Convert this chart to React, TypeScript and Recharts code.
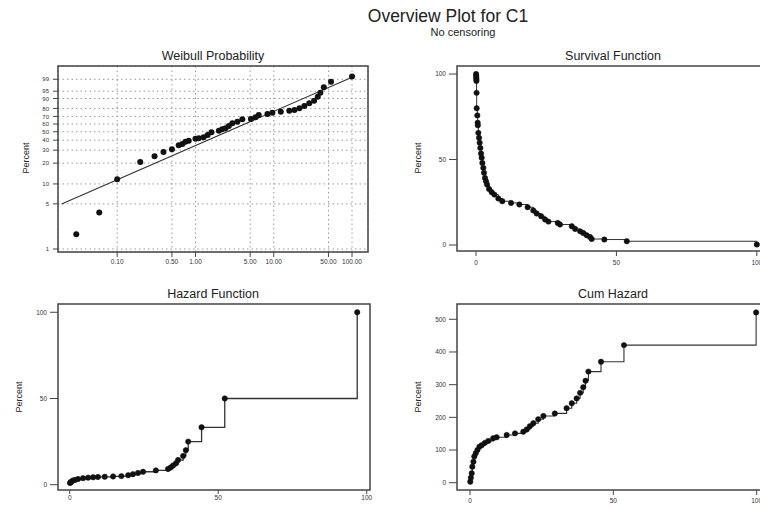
import React from 'react';
import {
  CartesianGrid,
  Line,
  LineChart,
  ReferenceArea,
  Scatter,
  ScatterChart,
  XAxis,
  YAxis,
} from 'recharts';

const FONT = '"Liberation Sans", Arial, sans-serif';

// Weibull probability plot (time, plotted percent)
const weibullTimes = [
  0.03, 0.059, 0.1, 0.197, 0.3, 0.39, 0.5, 0.61, 0.68, 0.745, 0.82, 1.0, 1.1, 1.27, 1.43, 1.6,
  1.99, 2.19, 2.42, 2.67, 2.96, 3.43, 3.97, 5.1, 5.86, 6.43, 8.3, 9.6, 12.3, 15.8, 18.4, 21.3,
  24.6, 28.4, 32.8, 36.5, 39.4, 43.6, 53.9, 100,
];
const weibullPercents = [
  1.7, 3.7, 11.7, 20.7, 24.8, 28.4, 30.8, 34.6, 36, 38.4, 39.4, 41.7, 42.2, 43.3, 46, 49.3,
  51.3, 53.1, 54.4, 57.4, 61, 63.1, 66.3, 66.8, 68.9, 71.9, 73.2, 74.8, 76, 77.3, 78, 80.1,
  82.7, 85.6, 88.1, 91.4, 94.1, 96.8, 98.5, 99.4,
];
const fitTimes = [0.0195, 100];
const fitPercents = [4.98, 99.3];
const percentTicks = [1, 5, 10, 20, 30, 40, 50, 60, 70, 80, 90, 95, 99];
const timeTicks = [0.1, 0.5, 1, 5, 10, 50, 100];

// Survival function
const survTimes = [
  0.03, 0.06, 0.1, 0.12, 0.15, 0.2, 0.24, 0.47, 0.59, 0.65, 0.83, 1.07, 1.3, 1.54, 1.78, 2.02,
  2.26, 2.61, 2.85, 3.2, 3.56, 3.92, 4.63, 5.58, 6.53, 7.95, 9.37, 12.47, 15.44, 18.4, 20.4,
  21.6, 23.2, 24.6, 25.8, 29.1, 29.9, 34.1, 35.3, 37.1, 38.2, 39.4, 40.6, 41.2, 45.7, 53.7, 100,
];
const survPercents = [
  100, 99, 98, 97, 96, 89, 80, 75.8, 71.5, 70, 65.6, 62.7, 59.8, 56.8, 53.5, 51, 48, 45.1, 42.2,
  39.2, 37.3, 35.4, 32.8, 30.9, 29.5, 27.2, 25.6, 24.6, 23.7, 22.1, 20.2, 18.4, 16.8, 14.9, 13.7,
  12.9, 12, 11, 9.4, 8, 7, 5.7, 4.7, 3.5, 3.2, 2.2, 0.3,
];

// Hazard function
const hazTimes = [
  0.1, 0.3, 0.6, 1.1, 1.8, 2.8, 4.5, 6.2, 7.9, 9.5, 11.8, 14.6, 17.4, 19.7, 21.3, 23, 24.7, 29,
  33.1, 34, 34.8, 35.8, 36.5, 38.2, 39.1, 39.9, 44.4, 52.2, 96.8,
];
const hazPercents = [
  1.0, 1.4, 1.8, 2.4, 2.8, 3.3, 3.8, 4.1, 4.3, 4.5, 4.6, 4.8, 5.0, 5.5, 6.1, 6.8, 7.5, 8.3, 9.1,
  10, 11.1, 12.5, 14.3, 16.7, 20, 25, 33.3, 50, 100,
];

// Cumulative hazard
const cumTimes = [
  0.1, 0.3, 0.6, 0.8, 1.2, 1.5, 2, 2.6, 3.3, 4.1, 5.2, 6.4, 8.1, 9.3, 12.8, 15.7, 18.6, 19.8,
  20.9, 22.1, 23.8, 25.6, 29.6, 33.7, 35.5, 37.2, 38.4, 39.5, 40.3, 41.3, 45.7, 53.7, 99.8,
];
const cumPercents = [
  3, 15, 29, 49, 64, 80, 90, 100, 110, 115, 122, 128, 136, 139, 146, 151, 156, 163, 173, 182,
  194, 204, 212, 228, 243, 258, 275, 292, 312, 340, 370, 421, 521,
];

const weibullY = (p: number) => Math.log(-Math.log(1 - p / 100));
const weibullP = (w: number) => Math.round((1 - Math.exp(-Math.exp(w))) * 100);

const pair = (xs: number[], ys: number[]) => xs.map((t, i) => ({ t, v: ys[i] }));

const weibullData = weibullTimes.map((t, i) => ({ t, w: weibullY(weibullPercents[i]) }));
const fitData = fitTimes.map((t, i) => ({ t, w: weibullY(fitPercents[i]) }));

const tick = { fill: '#333', fontSize: 6.5, fontFamily: FONT };
const tickLine = { stroke: '#444' };
const frame = { fill: 'none', stroke: '#444', strokeWidth: 1.5, fillOpacity: 0 };
const dot = { r: 2.7, fill: '#111', stroke: '#111', strokeWidth: 0.5 };

const Dot = (props: any) => <circle cx={props.cx} cy={props.cy} r={3} fill="#111" />;
const NoShape = () => <g />;

function Text({ x, y, size, children, rotate }: any) {
  return (
    <div
      style={{
        position: 'absolute',
        left: x,
        top: y,
        transform: `translate(-50%, -50%)${rotate ? ' rotate(-90deg)' : ''}`,
        fontSize: size,
        fontFamily: FONT,
        color: '#222',
        whiteSpace: 'nowrap',
        lineHeight: 1,
      }}
    >
      {children}
    </div>
  );
}

function StepPanel({ data, left, top, width, height, margin, xDomain, yDomain, yTicks, yWidth, xTickSize, xTickMargin, xHeight, lineWidth }: any) {
  return (
    <div style={{ position: 'absolute', left, top }}>
      <LineChart width={width} height={height} data={data} margin={margin}>
        <XAxis
          type="number"
          dataKey="t"
          domain={xDomain}
          allowDataOverflow
          ticks={[0, 50, 100]}
          interval={0}
          tick={tick}
          tickLine={tickLine}
          axisLine={false}
          tickSize={xTickSize}
          tickMargin={xTickMargin}
          height={xHeight}
        />
        <YAxis
          type="number"
          domain={yDomain}
          allowDataOverflow
          ticks={yTicks}
          interval={0}
          tick={tick}
          tickLine={tickLine}
          axisLine={false}
          tickSize={8}
          tickMargin={3}
          width={yWidth}
        />
        <ReferenceArea x1={xDomain[0]} x2={xDomain[1]} y1={yDomain[0]} y2={yDomain[1]} {...frame} />
        <Line
          type="stepAfter"
          dataKey="v"
          stroke="#333"
          strokeWidth={lineWidth}
          dot={dot}
          activeDot={false}
          isAnimationActive={false}
        />
      </LineChart>
    </div>
  );
}

export default function App() {
  const wDomain = [-4.708, 2.007];
  const tDomain = [0.01753, 160];
  return (
    <div
      style={{
        position: 'absolute',
        left: 0,
        top: 0,
        width: 760,
        height: 508,
        overflow: 'hidden',
        background: '#fff',
      }}
    >
      <Text x={448} y={17} size={17.5}>Overview Plot for C1</Text>
      <Text x={463} y={32} size={11}>No censoring</Text>

      <Text x={213} y={56} size={12.5}>Weibull Probability</Text>
      <Text x={613} y={56} size={12.5}>Survival Function</Text>
      <Text x={213} y={294} size={12.5}>Hazard Function</Text>
      <Text x={613} y={294} size={12.5}>Cum Hazard</Text>

      <Text x={26} y={158} size={9} rotate>Percent</Text>
      <Text x={418} y={158} size={9} rotate>Percent</Text>
      <Text x={19} y={397} size={9} rotate>Percent</Text>
      <Text x={418} y={397} size={9} rotate>Percent</Text>

      <div style={{ position: 'absolute', left: 0, top: 40 }}>
        <ScatterChart width={380} height={240} margin={{ top: 26, right: 12, bottom: 8, left: 28 }}>
          <CartesianGrid stroke="#999" strokeDasharray="1.5 3" />
          <XAxis
            type="number"
            dataKey="t"
            scale="log"
            domain={tDomain}
            allowDataOverflow
            ticks={timeTicks}
            interval={0}
            tickFormatter={(v: number) => v.toFixed(2)}
            tick={tick}
            tickLine={tickLine}
            axisLine={false}
            tickSize={5}
            tickMargin={2}
            height={20}
          />
          <YAxis
            type="number"
            dataKey="w"
            domain={wDomain}
            allowDataOverflow
            ticks={percentTicks.map(weibullY)}
            interval={0}
            tickFormatter={(v: number) => String(weibullP(v))}
            tick={{ ...tick, fontSize: 6 }}
            tickLine={tickLine}
            axisLine={false}
            tickSize={5}
            tickMargin={4}
            width={30}
          />
          <ReferenceArea x1={tDomain[0]} x2={tDomain[1]} y1={wDomain[0]} y2={wDomain[1]} {...frame} />
          <Scatter data={fitData} line={{ stroke: '#333', strokeWidth: 1.1 }} shape={NoShape} isAnimationActive={false} />
          <Scatter data={weibullData} shape={Dot} isAnimationActive={false} />
        </ScatterChart>
      </div>

      <StepPanel
        data={pair(survTimes, survPercents)}
        left={380}
        top={40}
        width={390}
        height={240}
        margin={{ top: 26, right: 7, bottom: 8, left: 37 }}
        xDomain={[-6.77, 102.2]}
        yDomain={[-3.5, 104.7]}
        yTicks={[0, 50, 100]}
        yWidth={40}
        xTickSize={5}
        xTickMargin={4}
        xHeight={21}
        lineWidth={1}
      />

      <StepPanel
        data={pair(hazTimes, hazPercents)}
        left={0}
        top={280}
        width={380}
        height={228}
        margin={{ top: 24, right: 10, bottom: 2, left: 28 }}
        xDomain={[-3.94, 101.1]}
        yDomain={[-3.07, 104.8]}
        yTicks={[0, 50, 100]}
        yWidth={30}
        xTickSize={4}
        xTickMargin={1}
        xHeight={16}
        lineWidth={1.3}
      />

      <StepPanel
        data={pair(cumTimes, cumPercents)}
        left={380}
        top={280}
        width={390}
        height={228}
        margin={{ top: 24, right: 7, bottom: 2, left: 37 }}
        xDomain={[-4.53, 102.2]}
        yDomain={[-22.3, 546.8]}
        yTicks={[0, 100, 200, 300, 400, 500]}
        yWidth={40}
        xTickSize={5}
        xTickMargin={3}
        xHeight={16}
        lineWidth={1.1}
      />
    </div>
  );
}
